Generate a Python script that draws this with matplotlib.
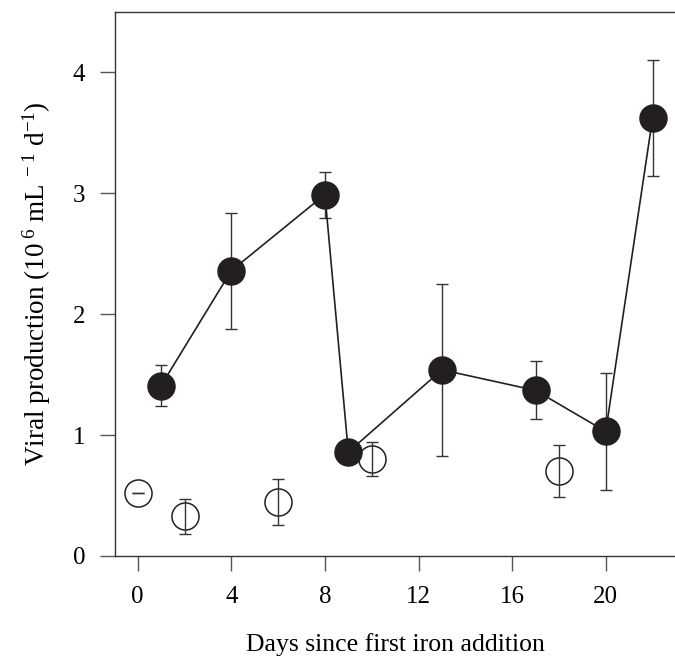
import matplotlib
matplotlib.use('Agg')
import matplotlib.pyplot as plt

plt.rcParams['font.family'] = ['Liberation Serif', 'DejaVu Serif']
plt.rcParams['mathtext.fontset'] = 'custom'
plt.rcParams['mathtext.rm'] = 'Liberation Serif'
plt.rcParams['mathtext.it'] = 'Liberation Serif:italic'

# iron-fertilised (filled) series
days_fe = [1, 4, 8, 9, 13, 17, 20, 22]
prod_fe = [1.41, 2.36, 2.99, 0.86, 1.54, 1.37, 1.03, 3.62]
err_fe = [0.17, 0.48, 0.19, 0.0, 0.71, 0.24, 0.48, 0.48]

# outside patch (open) series
days_out = [0, 2, 6, 10, 18]
prod_out = [0.52, 0.33, 0.45, 0.80, 0.70]
err_out = [0.0, 0.145, 0.19, 0.14, 0.215]

fig = plt.figure(figsize=(6.75, 6.6), dpi=100)
ax = fig.add_axes([115 / 675, 104 / 660, 560 / 675, 544 / 660])

# open circles: fill first, error bars drawn on top of them
ax.plot(days_out, prod_out, 'o', mfc='white', mec='#231f20', mew=1.1, ms=19.5, zorder=2)
ax.errorbar(days_out, prod_out, yerr=err_out, fmt='none', ecolor='#333333',
            elinewidth=1.0, capsize=4, capthick=1.0, zorder=3)

ax.errorbar(days_fe, prod_fe, yerr=err_fe, fmt='none', ecolor='#333333',
            elinewidth=1.0, capsize=4, capthick=1.0, zorder=2)
ax.plot(days_fe, prod_fe, '-', color='#231f20', lw=1.2, zorder=3)
ax.plot(days_fe, prod_fe, 'o', color='#231f20', ms=19.5, zorder=4)

ax.set_xlim(-0.97, 22.96)
ax.set_ylim(0, 4.5)
ax.set_xticks([0, 4, 8, 12, 16, 20])
ax.set_yticks([0, 1, 2, 3, 4])

ax.spines['right'].set_visible(False)
for s in ['left', 'top', 'bottom']:
    ax.spines[s].set_color('#333333')
    ax.spines[s].set_linewidth(1.0)
ax.tick_params(direction='out', length=10.5, width=1.0, color='#555555',
               labelsize=18, pad=11)

ax.set_xlabel('Days since first iron addition', fontsize=18.5, labelpad=18)
ax.set_ylabel('Viral production (10$^{\\ 6}$ mL$^{\\ -1}$ d$^{-1}$)', fontsize=19.5,
              labelpad=14)

fig.savefig('out.png', dpi=100)
